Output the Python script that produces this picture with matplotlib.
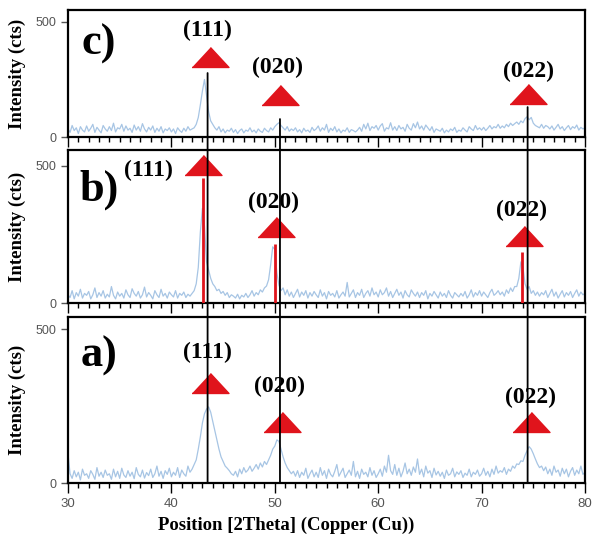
import numpy as np
import matplotlib
matplotlib.use("Agg")
import matplotlib.pyplot as plt
from matplotlib.patches import ConnectionPatch
from matplotlib.ticker import MultipleLocator

# 2theta grid, 0.2 deg step
two_theta = np.linspace(30, 80, 251)

# sample a)
int_a = [
    95, 30, 15, 40, 20, 35, 10, 45, 25, 30,
    15, 40, 28, 12, 50, 22, 35, 18, 42, 25,
    30, 12, 45, 20, 38, 15, 48, 26, 18, 40,
    22, 35, 14, 50, 28, 20, 42, 16, 34, 24,
    45, 18, 30, 55, 22, 38, 15, 40, 28, 48,
    20, 35, 25, 50, 18, 42, 30, 22, 55, 35,
    45, 60, 75, 110, 150, 195, 225, 240, 247, 230,
    200, 170, 140, 110, 85, 70, 55, 48, 40, 30,
    25, 38, 20, 45, 30, 50, 35, 42, 55, 38,
    48, 60, 45, 65, 52, 70, 60, 75, 90, 110,
    120, 140, 135, 110, 85, 65, 50, 40, 30, 38,
    22, 40, 18, 35, 25, 48, 15, 30, 42, 20,
    35, 18, 50, 25, 40, 15, 45, 28, 20, 38,
    60, 22, 35, 48, 18, 30, 42, 25, 70, 20,
    38, 15, 45, 28, 35, 20, 50, 25, 40, 18,
    30, 45, 22, 55, 35, 90, 40, 28, 60, 25,
    48, 20, 38, 65, 30, 45, 25, 52, 35, 78,
    28, 45, 20, 55, 32, 40, 18, 48, 26, 38,
    22, 35, 15, 42, 25, 30, 48, 20, 36, 28,
    40, 18, 32, 25, 45, 20, 35, 28, 42, 22,
    30, 48, 25, 38, 20, 45, 28, 55, 32, 40,
    35, 50, 28, 45, 38, 55, 48, 62, 60, 72,
    70, 90, 105, 118, 110, 95, 78, 62, 50, 55,
    40, 52, 30, 45, 25, 55, 35, 42, 22, 48,
    30, 45, 20, 38, 50, 25, 42, 30, 55, 28,
    35,
]

# sample b)
int_b = [
    30, 20, 45, 15, 38, 25, 50, 18, 35, 28,
    42, 15, 30, 55, 20, 38, 25, 45, 18, 32,
    22, 60, 28, 15, 40, 25, 35, 18, 48, 30,
    20, 52, 35, 25, 42, 18, 30, 58, 22, 38,
    28, 15, 45, 30, 20, 50, 25, 35, 18, 40,
    30, 22, 45, 18, 35, 28, 40, 20, 32, 25,
    35, 45, 70, 130, 260, 345, 280, 150, 120, 90,
    70, 60, 45, 50, 35, 42, 28, 38, 20, 30,
    25, 18, 32, 15, 28, 22, 35, 20, 30, 45,
    25, 38, 30, 48, 40, 55, 62, 85, 140, 205,
    195, 110, 65, 45, 55, 30, 48, 25, 40, 20,
    35, 50, 22, 40, 28, 45, 18, 38, 25, 42,
    30, 20, 48, 25, 38, 15, 42, 28, 35, 22,
    45, 18, 30, 40, 25, 75, 22, 35, 48, 20,
    38, 28, 50, 20, 35, 45, 25, 55, 30, 40,
    22, 48, 30, 38, 55, 25, 42, 20, 35, 50,
    28, 40, 18, 45, 30, 22, 48, 35, 25, 40,
    20, 38, 28, 45, 15, 35, 25, 42, 30, 18,
    40, 25, 35, 20, 45, 28, 18, 38, 30, 22,
    35, 25, 42, 18, 30, 48, 22, 38, 28, 45,
    25, 40, 30, 20, 38, 50, 28, 35, 45, 30,
    40, 25, 48, 35, 55, 42, 60, 60, 90, 150,
    130, 70, 50, 60, 35, 45, 28, 40, 25, 38,
    30, 45, 20, 35, 50, 25, 40, 18, 32, 45,
    22, 38, 28, 42, 20, 35, 48, 25, 40, 30,
    35,
]

# sample c)
int_c = [
    35, 20, 50, 28, 40, 15, 45, 30, 22, 48,
    25, 38, 55, 20, 42, 30, 18, 50, 35, 25,
    45, 28, 60, 22, 40, 35, 55, 25, 48, 30,
    38, 20, 52, 30, 45, 25, 58, 35, 22, 42,
    30, 48, 20, 38, 25, 45, 18, 35, 28, 40,
    22, 35, 15, 40, 28, 20, 38, 25, 45, 30,
    35, 40, 55, 85, 140, 200, 250, 180, 110, 70,
    55, 40, 30, 45, 22, 35, 18, 30, 25, 38,
    20, 32, 15, 28, 35, 18, 30, 25, 40, 22,
    30, 18, 35, 25, 20, 38, 28, 22, 40, 30,
    45, 55, 62, 50, 40, 30, 45, 25, 35, 28,
    40, 22, 32, 18, 38, 25, 30, 20, 42, 28,
    35, 48, 25, 40, 30, 55, 20, 38, 28, 45,
    22, 35, 18, 30, 25, 40, 20, 32, 28, 22,
    30, 42, 25, 55, 35, 60, 28, 45, 38, 50,
    30, 48, 58, 25, 40, 35, 62, 30, 45, 28,
    50, 35, 42, 25, 55, 38, 30, 58, 40, 65,
    35, 48, 30, 52, 40, 28, 45, 20, 35, 30,
    25, 38, 18, 30, 22, 35, 28, 42, 20, 30,
    25, 40, 30, 22, 45, 35, 28, 50, 32, 40,
    30, 42, 28, 38, 50, 35, 45, 40, 55, 38,
    48, 40, 55, 45, 60, 50, 58, 65, 55, 70,
    62, 80, 88, 75, 85, 60, 50, 45, 40, 55,
    38, 50, 45, 35, 48, 30, 42, 55, 35, 45,
    28, 40, 50, 32, 45, 38, 52, 30, 42, 35,
    40,
]

peak_names = ["(111)", "(020)", "(022)"]

# marker triangles (2theta, cts) per panel
tri_c_x = [43.7, 50.5, 74.5]
tri_c_y = [348, 183, 187]
tri_b_x = [43.03, 50.1, 74.1]
tri_b_y = [504, 277, 246]
tri_a_x = [43.7, 50.7, 74.8]
tri_a_y = [325, 198, 198]

# peak label positions
lab_c_x = [43.5, 50.3, 74.5]
lab_c_y = [465, 304, 283]
lab_b_x = [37.8, 49.9, 73.9]
lab_b_y = [485, 368, 336]
lab_a_x = [43.5, 50.5, 74.7]
lab_a_y = [425, 312, 279]

# reference pattern sticks in b)
ref_x = [43.03, 50.02, 73.94]
ref_y = [456, 215, 187]

# guide lines through all panels: position and start height in c)
guide_x = [43.5, 50.5, 74.45]
guide_top = [278, 78, 130]

plt.rcParams['font.family'] = ['Liberation Serif', 'DejaVu Serif']

W, H = 592, 541
fig = plt.figure(figsize=(W / 100, H / 100), dpi=100)

def box(top, bottom):
    return [68 / W, (H - bottom) / H, 517 / W, (bottom - top) / H]

ax_c = fig.add_axes(box(10, 137))
ax_b = fig.add_axes(box(150, 303))
ax_a = fig.add_axes(box(317, 483))

blue = '#a7c5e4'
red = '#e0141c'
tri = [(-1, -0.54), (1, -0.54), (0, 0.54)]

panels = [
    (ax_c, int_c, 552, 'c)', tri_c_x, tri_c_y, lab_c_x, lab_c_y, 404),
    (ax_b, int_b, 558, 'b)', tri_b_x, tri_b_y, lab_b_x, lab_b_y, 412),
    (ax_a, int_a, 539, 'a)', tri_a_x, tri_a_y, lab_a_x, lab_a_y, 412),
]

for ax, inten, ytop, letter, tx, ty, lx, ly, lety in panels:
    ax.plot(two_theta, inten, color=blue, lw=0.9, zorder=2)
    ax.set_xlim(30, 80)
    ax.set_ylim(0, ytop)
    ax.set_yticks([0, 500])
    ax.xaxis.set_major_locator(MultipleLocator(10))
    ax.xaxis.set_minor_locator(MultipleLocator(1))
    ax.tick_params(axis='x', which='major', direction='out', length=7, width=1,
                   colors='black', labelcolor='#555555', labelsize=9.5)
    ax.tick_params(axis='x', which='minor', direction='out', length=3.5, width=1)
    ax.tick_params(axis='y', direction='out', length=5, width=1, colors='#555555',
                   labelsize=9)
    for s in ax.spines.values():
        s.set_linewidth(1.6)
        s.set_color('black')
    ax.set_ylabel('Intensity (cts)', fontsize=13.5, fontweight='bold', labelpad=4)
    ax.yaxis.set_label_coords(-0.082, 0.5)
    ax.plot(tx, ty, linestyle='none', marker=tri, markersize=26.6,
            color=red, markeredgewidth=1, zorder=4)
    for name, x, y in zip(peak_names, lx, ly):
        ax.text(x, y, name, fontsize=17, fontweight='bold', ha='center',
                va='center', zorder=5)
    ax.text(33.0, lety, letter, fontsize=32, fontweight='bold', ha='center',
            va='center')

ax_c.set_xticklabels([])
ax_b.set_xticklabels([])
for ax in (ax_a, ax_b, ax_c):
    for lbl in ax.get_xticklabels() + ax.get_yticklabels():
        lbl.set_family('Liberation Sans')

ax_b.vlines(ref_x, 0, ref_y, color=red, lw=2, zorder=3)

for gx, gt in zip(guide_x, guide_top):
    con = ConnectionPatch(xyA=(gx, gt), coordsA=ax_c.transData,
                          xyB=(gx, 0), coordsB=ax_a.transData,
                          color='black', lw=1.3)
    fig.add_artist(con)

fig.text(286 / W, (H - 525) / H, 'Position [2Theta] (Copper (Cu))',
         fontsize=13.5, fontweight='bold', ha='center', va='center')

fig.savefig('out.png', dpi=100)
